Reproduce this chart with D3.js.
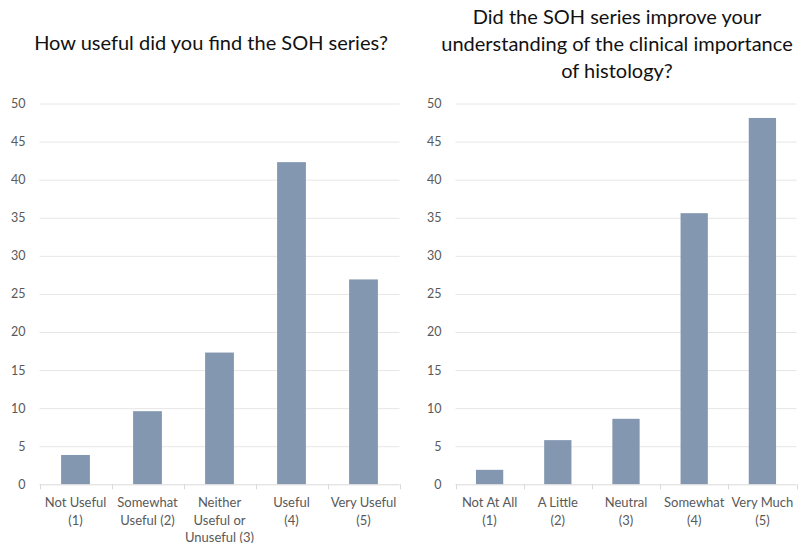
<!DOCTYPE html>
<html>
<head>
<meta charset="utf-8">
<script src="https://cdn.jsdelivr.net/npm/d3@7"></script>
<style>
  html, body { margin: 0; padding: 0; background: #fff; }
  svg { display: block; }
  text { font-family: Lato, "Open Sans", sans-serif; }
</style>
</head>
<body>
<svg id="chart" width="798" height="543"></svg>
<script>
// Survey responses (% of respondents)
const usefulCategories = ["Not Useful\n(1)", "Somewhat\nUseful (2)", "Neither\nUseful or\nUnuseful (3)", "Useful\n(4)", "Very Useful\n(5)"];
const usefulValues = [3.85, 9.6, 17.3, 42.3, 26.9];

const understandCategories = ["Not At All\n(1)", "A Little\n(2)", "Neutral\n(3)", "Somewhat\n(4)", "Very Much\n(5)"];
const understandValues = [1.9, 5.8, 8.6, 35.6, 48.1];

const yTicks = [0, 5, 10, 15, 20, 25, 30, 35, 40, 45, 50];

const usefulTitle = ["How useful did you find the SOH series?"];
const understandTitle = ["Did the SOH series improve your", "understanding of the clinical importance", "of histology?"];

const svg = d3.select("#chart");
const barColor = "#8497b0";
const gridColor = "#e6e6e6";
const axisColor = "#d9d9d9";
const labelColor = "#595959";

function drawPanel(opts) {
  const { x0, x1, yTop, yBottom, categories, values, title, titleX, titleY, titleStep } = opts;
  const g = svg.append("g");

  const x = d3.scaleBand()
    .domain(categories)
    .range([x0, x1])
    .paddingInner(0.6)
    .paddingOuter(0.3);

  const y = d3.scaleLinear().domain([0, 50]).range([yBottom, yTop]);

  // horizontal gridlines
  g.append("g")
    .selectAll("line")
    .data(yTicks.filter(d => d > 0))
    .join("line")
    .attr("x1", x0).attr("x2", x1)
    .attr("y1", d => y(d) + 0.5).attr("y2", d => y(d) + 0.5)
    .attr("stroke", gridColor)
    .attr("stroke-width", 1);

  // y axis labels
  const yAxis = d3.axisLeft(y).tickValues(yTicks).tickSize(0).tickPadding(14);
  const ya = g.append("g").attr("transform", `translate(${x0},0)`).call(yAxis);
  ya.select(".domain").remove();
  ya.selectAll("text")
    .attr("fill", labelColor)
    .attr("font-size", 12.5)
    .attr("font-family", "Lato, 'Open Sans', sans-serif");

  // bars
  g.append("g")
    .selectAll("rect")
    .data(values)
    .join("rect")
    .attr("x", (d, i) => x(categories[i]))
    .attr("width", x.bandwidth())
    .attr("y", d => y(d))
    .attr("height", d => y(0) - y(d))
    .attr("fill", barColor);

  // category axis with boundary ticks
  const step = x.step();
  const bounds = d3.range(categories.length + 1).map(i => x0 + i * step);
  const xa = g.append("g");
  xa.append("line")
    .attr("x1", x0).attr("x2", x1)
    .attr("y1", y(0) + 0.5).attr("y2", y(0) + 0.5)
    .attr("stroke", axisColor);
  xa.selectAll("line.tick")
    .data(bounds)
    .join("line")
    .attr("class", "tick")
    .attr("x1", d => Math.round(d) + 0.5).attr("x2", d => Math.round(d) + 0.5)
    .attr("y1", y(0)).attr("y2", y(0) + 5)
    .attr("stroke", axisColor);

  const labels = xa.selectAll("text.cat")
    .data(categories)
    .join("text")
    .attr("class", "cat")
    .attr("x", d => x(d) + x.bandwidth() / 2)
    .attr("y", y(0) + 23)
    .attr("text-anchor", "middle")
    .attr("fill", labelColor)
    .attr("font-size", 13);
  labels.each(function(d) {
    const t = d3.select(this);
    d.split("\n").forEach((line, i) => {
      t.append("tspan")
        .attr("x", x(d) + x.bandwidth() / 2)
        .attr("dy", i === 0 ? 0 : 17.5)
        .text(line);
    });
  });

  // title
  g.append("g")
    .selectAll("text")
    .data(title)
    .join("text")
    .attr("x", titleX)
    .attr("y", (d, i) => titleY + i * titleStep)
    .attr("text-anchor", "middle")
    .attr("fill", "#111")
    .attr("font-size", 20)
    .text(d => d);
}

drawPanel({
  x0: 39.5, x1: 399.5, yTop: 103.5, yBottom: 484.3,
  categories: usefulCategories, values: usefulValues,
  title: usefulTitle, titleX: 211, titleY: 50, titleStep: 27
});

drawPanel({
  x0: 455.5, x1: 796.5, yTop: 103.5, yBottom: 484.3,
  categories: understandCategories, values: understandValues,
  title: understandTitle, titleX: 617, titleY: 24, titleStep: 27
});
</script>
</body>
</html>
